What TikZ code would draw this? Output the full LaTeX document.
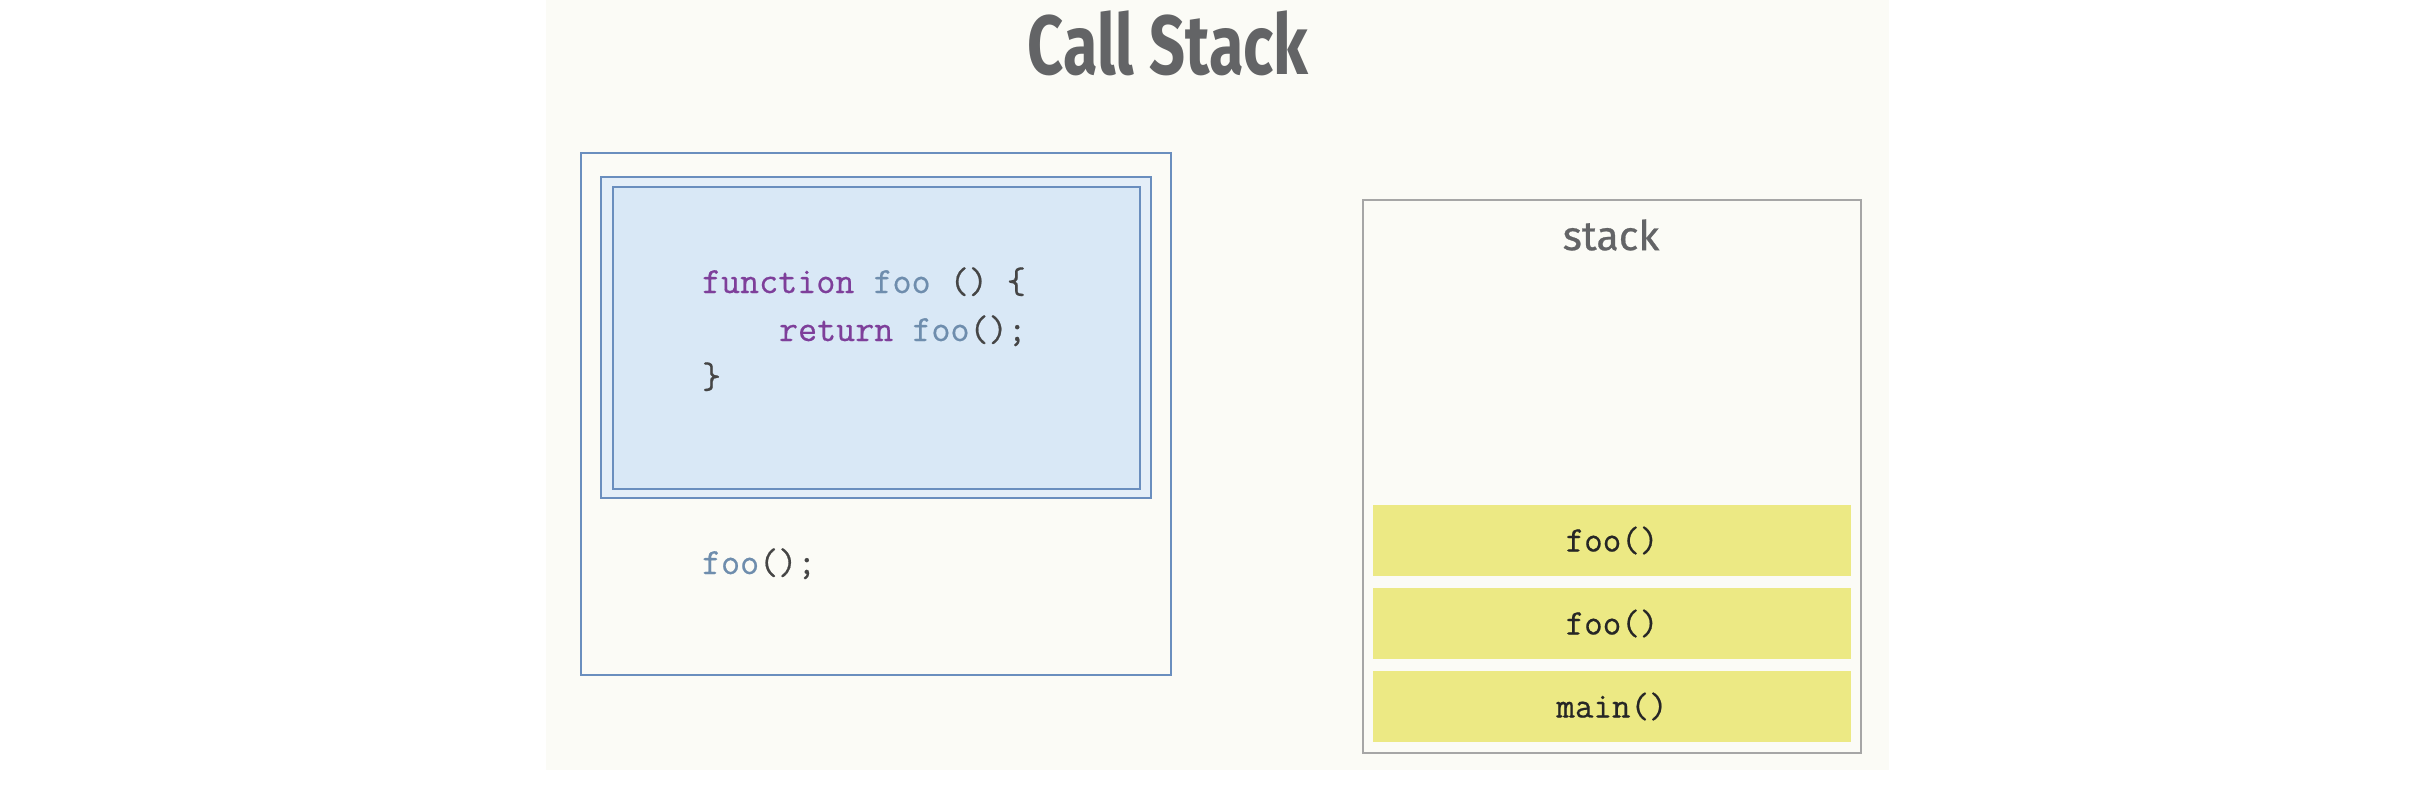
\documentclass[tikz,border=0pt]{standalone}
\usepackage{fontspec}
\newfontfamily\titlefont[FakeStretch=0.75]{Fira Sans}
\newfontfamily\labelfont[FakeBold=0.6]{Fira Sans}
\newfontfamily\codefont[FakeBold=0.5]{Latin Modern Mono}
\definecolor{slidebg}{HTML}{FBFBF6}
\definecolor{boxblue}{HTML}{6A8EBE}
\definecolor{fillouter}{HTML}{E4EEF8}
\definecolor{fillinner}{HTML}{D9E8F6}
\definecolor{stackgray}{HTML}{A6A6A6}
\definecolor{frameyellow}{HTML}{ECE984}
\definecolor{titlegray}{HTML}{636466}
\definecolor{kwpurple}{HTML}{7E3F9A}
\definecolor{fnblue}{HTML}{6E8DAD}
\definecolor{punct}{HTML}{454545}
\begin{document}
\begin{tikzpicture}[x=0.5pt,y=-0.5pt,
  txt/.style={inner sep=0pt,outer sep=0pt},
  codeline/.style={txt,anchor=base west,font=\codefont\fontsize{18.5}{22}\selectfont,text=punct},
  frame/.style={draw=boxblue,line width=1.3pt,inner sep=0pt,outer sep=0pt},
  stackframe/.style={fill=frameyellow,inner sep=0pt,outer sep=0pt,minimum width=239pt,minimum height=35.5pt,font=\codefont\fontsize{18}{22}\selectfont,text=black!85}]
\useasboundingbox (0,0) rectangle (2410,794);
\fill[white] (0,0) rectangle (2410,794);
\fill[slidebg] (546,0) rectangle (1889,770);
% title
\node[txt,text=titlegray,font=\titlefont\bfseries\fontsize{42}{48}\selectfont] (title) at (1168,43) {Call Stack};
% left code box
\node[frame,fill=slidebg,minimum width=295pt,minimum height=261pt] (prog) at (876,414) {};
\node[frame,fill=fillouter,minimum width=275pt,minimum height=160.5pt] (fnouter) at (876,337.5) {};
\node[frame,fill=fillinner,minimum width=263.5pt,minimum height=151pt] (fninner) at (876.5,338) {};
\node[codeline] (l1) at (702,293) {\textcolor{kwpurple}{function} \textcolor{fnblue}{foo} () \{};
\node[codeline] (l2) at (779,341) {\textcolor{kwpurple}{return} \textcolor{fnblue}{foo}();};
\node[codeline] (l3) at (702,388) {\}};
\node[codeline] (l4) at (702,574) {\textcolor{fnblue}{foo}();};
% stack
\node[draw=stackgray,line width=1pt,fill=slidebg,inner sep=0pt,minimum width=249pt,minimum height=276.5pt] (stack) at (1612,476.5) {};
\node[txt,text=titlegray,font=\labelfont\fontsize{20.5}{24}\selectfont] (stacklbl) at (1611,235) {stack};
\node[stackframe] (f1) at (1612,540.5) {foo()};
\node[stackframe] (f2) at (1612,623.5) {foo()};
\node[stackframe] (f3) at (1612,706.5) {main()};
\end{tikzpicture}
\end{document}
